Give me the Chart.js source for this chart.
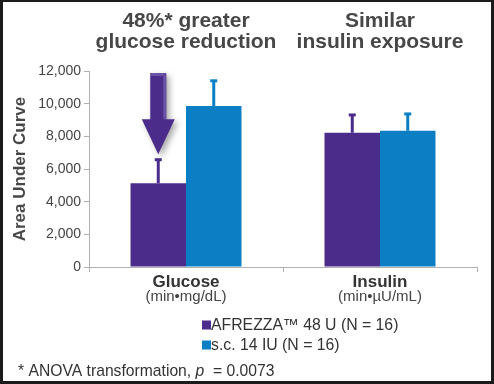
<!DOCTYPE html>
<html>
<head>
<meta charset="utf-8">
<script src="https://cdn.jsdelivr.net/npm/chart.js@4/dist/chart.umd.min.js"></script>
<style>
  html, body { margin: 0; padding: 0; }
  body { width: 494px; height: 384px; background: #1b1b1b; position: relative; overflow: hidden; }
  #wrap { position: absolute; left: 3px; top: 2px; width: 488px; height: 379px; background: #fff; }
  canvas { display: block; }
</style>
</head>
<body>
<div id="wrap"><canvas id="c" width="488" height="379"></canvas></div>
<script>
// ---- data ----
const categories = ["Glucose", "Insulin"];
const categoryUnits = ["(min\u2022mg/dL)", "(min\u2022\u00B5U/mL)"];
const headerLines = [["48%* greater", "glucose reduction"], ["Similar", "insulin exposure"]];
const seriesNames = ["AFREZZA\u2122 48 U (N = 16)", "s.c. 14 IU (N = 16)"];
const afrezzaValues = [5130, 8220];
const afrezzaErrTop = [6600, 9340];
const scValues = [9860, 8340];
const scErrTop = [11430, 9400];
const yTicks = [0, 2000, 4000, 6000, 8000, 10000, 12000];
const yAxisTitle = "Area Under Curve";
const footnote = ["* ANOVA transformation, ", "p", "  = 0.0073"];

const PURPLE = "#4b2c8b";
const BLUE = "#0b7ec4";
const errTops = [afrezzaErrTop, scErrTop];
const FONT = "'Liberation Sans', Arial, Helvetica, sans-serif";

const extras = {
  id: "extras",
  afterDatasetsDraw(chart) {
    const ctx = chart.ctx;
    const y = chart.scales.y;
    // error bars
    chart.data.datasets.forEach((ds, di) => {
      const meta = chart.getDatasetMeta(di);
      meta.data.forEach((el, i) => {
        const yTop = y.getPixelForValue(errTops[di][i]);
        ctx.save();
        ctx.strokeStyle = ds.backgroundColor;
        ctx.fillStyle = ds.backgroundColor;
        ctx.lineWidth = 3;
        ctx.beginPath();
        ctx.moveTo(el.x, el.y);
        ctx.lineTo(el.x, yTop);
        ctx.stroke();
        ctx.fillRect(el.x - 3.5, yTop - 1, 7, 3);
        ctx.restore();
      });
    });
    // arrow above AFREZZA glucose bar
    const el = chart.getDatasetMeta(0).data[0];
    const cx = el.x;
    const tip = y.getPixelForValue(afrezzaErrTop[0]) - 5;
    const top = chart.chartArea.top + 2;
    const headTop = tip - 35;
    const sw = 8, hw = 16.5;
    ctx.save();
    ctx.shadowColor = "rgba(0,0,0,0.35)";
    ctx.shadowBlur = 6;
    ctx.shadowOffsetX = 3;
    ctx.shadowOffsetY = 3;
    ctx.fillStyle = PURPLE;
    ctx.beginPath();
    ctx.moveTo(cx - sw, top);
    ctx.lineTo(cx + sw, top);
    ctx.lineTo(cx + sw, headTop);
    ctx.lineTo(cx + hw, headTop);
    ctx.lineTo(cx, tip);
    ctx.lineTo(cx - hw, headTop);
    ctx.lineTo(cx - sw, headTop);
    ctx.closePath();
    ctx.fill();
    ctx.restore();
    ctx.save();
    ctx.fillStyle = "#6a53a6";
    ctx.fillRect(cx + sw - 3, top + 2, 3, headTop - top - 2);
    ctx.beginPath();
    ctx.moveTo(cx - sw, top);
    ctx.lineTo(cx + sw, top);
    ctx.lineTo(cx + sw - 3, top + 3);
    ctx.lineTo(cx - sw + 1, top + 3);
    ctx.closePath();
    ctx.fill();
    ctx.restore();
  },
  afterDraw(chart) {
    const ctx = chart.ctx;
    const x = chart.scales.x;
    ctx.save();
    ctx.textAlign = "center";
    ctx.textBaseline = "alphabetic";
    categories.forEach((c, i) => {
      const px = x.getPixelForValue(i);
      ctx.fillStyle = "#474747";
      ctx.font = "bold 21px " + FONT;
      ctx.fillText(headerLines[i][0], px, 25);
      ctx.fillText(headerLines[i][1], px, 45.5);
      ctx.fillStyle = "#333";
      ctx.font = "bold 17px " + FONT;
      ctx.fillText(c, px, 285);
      ctx.fillStyle = "#444";
      ctx.font = "15px " + FONT;
      ctx.fillText(categoryUnits[i], px, 299);
    });
    // legend
    ctx.textAlign = "left";
    ctx.font = "15.8px " + FONT;
    chart.data.datasets.forEach((ds, i) => {
      const by = 327.5 + i * 20;
      ctx.fillStyle = ds.backgroundColor;
      ctx.fillRect(199, by - 9, 9, 9);
      ctx.fillStyle = "#333";
      ctx.fillText(ds.label, 208, by);
    });
    // footnote
    ctx.fillStyle = "#333";
    ctx.font = "15.7px " + FONT;
    let fx = 15;
    const fy = 374;
    ctx.fillText(footnote[0], fx, fy);
    fx += ctx.measureText(footnote[0]).width;
    ctx.font = "italic 15.7px " + FONT;
    ctx.fillText(footnote[1], fx, fy);
    fx += ctx.measureText(footnote[1]).width;
    ctx.font = "15.7px " + FONT;
    ctx.fillText(footnote[2], fx, fy);
    ctx.restore();
  }
};

new Chart(document.getElementById("c"), {
  type: "bar",
  data: {
    labels: categories,
    datasets: [
      { label: seriesNames[0], data: afrezzaValues, backgroundColor: PURPLE, borderWidth: 0 },
      { label: seriesNames[1], data: scValues, backgroundColor: BLUE, borderWidth: 0 }
    ]
  },
  options: {
    responsive: false,
    animation: false,
    events: [],
    layout: { padding: { left: 0, right: 14, top: 69, bottom: 0 } },
    plugins: { legend: { display: false }, tooltip: { enabled: false } },
    datasets: { bar: { categoryPercentage: 0.572, barPercentage: 1.0 } },
    scales: {
      x: {
        grid: { display: true, drawOnChartArea: false, drawTicks: true, tickLength: 5, color: "#b0b0b0", offset: true },
        border: { display: true, color: "#b0b0b0", width: 1 },
        ticks: { display: false },
        afterFit(s) { s.height = 114; }
      },
      y: {
        min: 0, max: 12000,
        afterBuildTicks(s) { s.ticks = yTicks.map(v => ({ value: v })); },
        grid: { display: true, drawOnChartArea: false, drawTicks: true, tickLength: 5, color: "#b0b0b0" },
        border: { display: true, color: "#b0b0b0", width: 1 },
        ticks: {
          color: "#444",
          font: { family: FONT, size: 14 },
          padding: 3,
          callback: v => Number(v).toLocaleString("en-US")
        },
        title: {
          display: true, text: yAxisTitle, color: "#474747",
          font: { family: FONT, size: 17, weight: "bold" },
          padding: { top: 7, bottom: 0 }
        },
        afterFit(s) { s.width = 86; }
      }
    }
  },
  plugins: [extras]
});
</script>
</body>
</html>
